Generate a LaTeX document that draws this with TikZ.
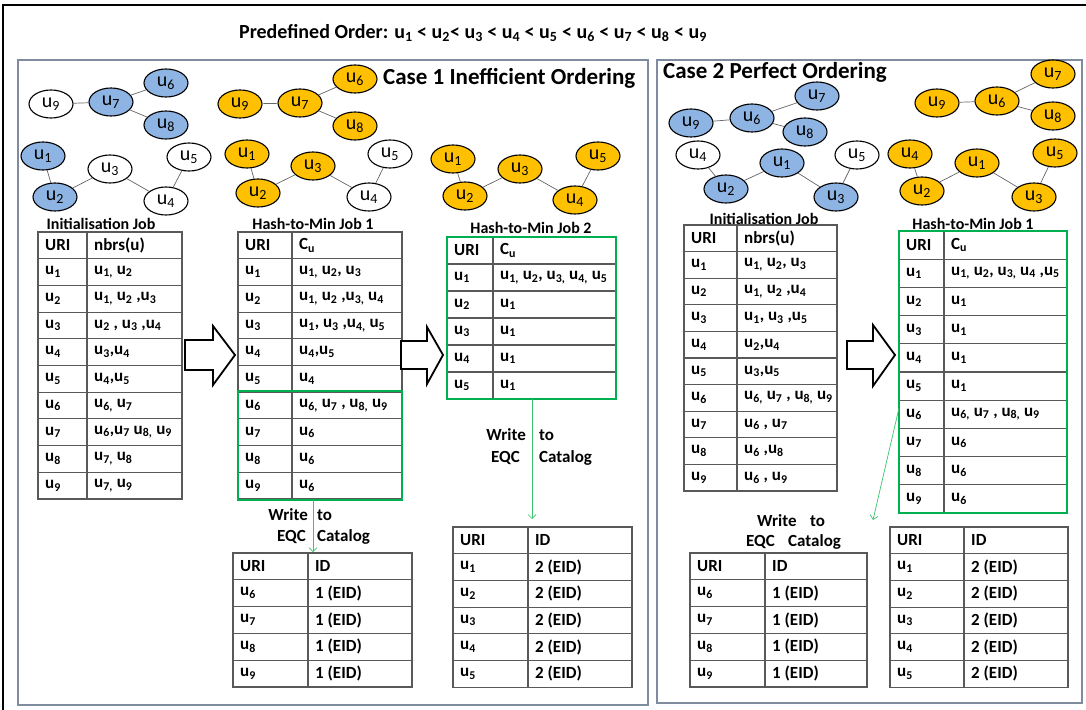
\documentclass[tikz,border=0pt]{standalone}
\usepackage{fontspec}
\setmainfont{Carlito}
\usetikzlibrary{shapes.geometric,arrows.meta}
\definecolor{nodeblue}{HTML}{8DB4E2}
\definecolor{nodeorange}{HTML}{FFC000}
\definecolor{panelgray}{RGB}{127,140,160}
\definecolor{boxgreen}{HTML}{00B050}
\definecolor{linkgreen}{HTML}{3CC36E}
\newcommand\ux[1]{u\textsubscript{#1}}
% #1 name, #2 rows, #3 left, #4 divider, #5 right, #6 top, #7 row height, #8 rows (uri/value)
\newcommand\ptable[8]{%
  \draw[tline] (#3,#6) rectangle (#5,#6+#2*#7);
  \draw[tline] (#4,#6) -- (#4,#6+#2*#7);
  \foreach \a/\b [count=\i from 0] in {#8} {
    \node[cell] (#1-\i-a) at (#3+7,#6+\i*#7+#7/2) {\a};
    \node[cell] (#1-\i-b) at (#4+7,#6+\i*#7+#7/2) {\b};
    \ifnum\i>0 \draw[tline] (#3,#6+\i*#7) -- (#5,#6+\i*#7); \fi
  }
  \coordinate (#1-nw) at (#3,#6);
  \coordinate (#1-se) at (#5,#6+#2*#7);
}
\begin{document}
\begin{tikzpicture}[x=1pt,y=-1pt,
  gn/.style={ellipse,draw=black,line width=1.1pt,minimum width=44pt,minimum height=28pt,inner sep=0pt,font=\fontsize{20}{20}\selectfont},
  bn/.style={gn,fill=nodeblue},
  on/.style={gn,fill=nodeorange},
  wn/.style={gn,fill=white},
  edge/.style={draw=black!60,line width=0.7pt},
  tline/.style={draw=black!65,line width=1.1pt},
  cell/.style={anchor=west,inner sep=0pt,font=\bfseries\fontsize{17}{18}\selectfont},
  ttl/.style={inner sep=0pt,font=\bfseries\fontsize{16}{17}\selectfont},
  wtext/.style={inner sep=0pt,font=\bfseries\fontsize{17}{18}\selectfont},
  green box/.style={draw=boxgreen,line width=2.6pt},
  link/.style={draw=linkgreen,line width=0.7pt,-{Straight Barb[length=4pt,width=8pt]}},
  blockarrow/.style={draw=black,line width=1.8pt,fill=white,line join=miter},
  panel/.style={draw=panelgray,line width=1.8pt}]
\useasboundingbox (0,0) rectangle (1086,709);

% outer frame and the two case panels
\draw[black,line width=2.5pt] (3,720) -- (3,5) -- (1100,5);
\draw[panel] (18,60) rectangle (648,705);
\draw[panel] (657,60) rectangle (1082,703);

% headings
\node[inner sep=0pt,font=\bfseries\fontsize{20}{21}\selectfont] (order) at (473,33)
  {Predefined Order: \ux{1} {<} \ux{2}{<} \ux{3} {<} \ux{4} {<} \ux{5} {<} \ux{6} {<} \ux{7} {<} \ux{8} {<} \ux{9}};
\node[inner sep=0pt,font=\bfseries\fontsize{23}{24}\selectfont,anchor=west] (case1) at (383,78) {Case 1 Inefficient Ordering};
\node[inner sep=0pt,font=\bfseries\fontsize{23}{24}\selectfont,anchor=west] (case2) at (663,72) {Case 2 Perfect Ordering};

% ---------- Case 1: initial graph ----------
\node[bn] (a6) at (166,83) {\ux{6}};
\node[wn] (a9) at (51,104) {\ux{9}};
\node[bn] (a7) at (111,102) {\ux{7}};
\node[bn] (a8) at (166,125) {\ux{8}};
\node[bn] (a1) at (43,156) {\ux{1}};
\node[wn] (a3) at (110,169) {\ux{3}};
\node[wn] (a5) at (189,157) {\ux{5}};
\node[bn] (a2) at (55,197) {\ux{2}};
\node[wn] (a4) at (166,201) {\ux{4}};
\foreach \p/\q in {a9/a7,a7/a6,a7/a8,a1/a2,a2/a3,a3/a4,a4/a5} \draw[edge] (\p) -- (\q);

% ---------- Case 1: graph after job 1 ----------
\node[on] (b6) at (355,79) {\ux{6}};
\node[on] (b9) at (240,104) {\ux{9}};
\node[on] (b7) at (300,103) {\ux{7}};
\node[on] (b8) at (355,126) {\ux{8}};
\node[on] (b1) at (247,154) {\ux{1}};
\node[on] (b3) at (313,166) {\ux{3}};
\node[wn] (b5) at (390,154) {\ux{5}};
\node[on] (b2) at (258,193) {\ux{2}};
\node[wn] (b4) at (369,197) {\ux{4}};
\foreach \p/\q in {b9/b7,b7/b6,b7/b8,b1/b2,b2/b3,b3/b4,b4/b5} \draw[edge] (\p) -- (\q);

% ---------- Case 1: graph after job 2 ----------
\node[on] (c1) at (453,159) {\ux{1}};
\node[on] (c3) at (520,169) {\ux{3}};
\node[on] (c5) at (598,156) {\ux{5}};
\node[on] (c2) at (465,196) {\ux{2}};
\node[on] (c4) at (575,200) {\ux{4}};
\foreach \p/\q in {c1/c2,c2/c3,c3/c4,c4/c5} \draw[edge] (\p) -- (\q);

% ---------- Case 2: initial graph ----------
\node[bn] (d7) at (817,96) {\ux{7}};
\node[bn] (d9) at (691,123) {\ux{9}};
\node[bn] (d6) at (752,118) {\ux{6}};
\node[bn] (d8) at (805,132) {\ux{8}};
\node[wn] (d4) at (698,155) {\ux{4}};
\node[bn] (d1) at (782,163) {\ux{1}};
\node[wn] (d5) at (857,155) {\ux{5}};
\node[bn] (d2) at (726,189) {\ux{2}};
\node[bn] (d3) at (836,197) {\ux{3}};
\foreach \p/\q in {d9/d6,d6/d7,d6/d8,d4/d2,d2/d1,d1/d3,d3/d5} \draw[edge] (\p) -- (\q);

% ---------- Case 2: graph after job 1 ----------
\node[on] (e7) at (1053,74) {\ux{7}};
\node[on] (e9) at (937,103) {\ux{9}};
\node[on] (e6) at (997,101) {\ux{6}};
\node[on] (e8) at (1053,116) {\ux{8}};
\node[on] (e4) at (910,154) {\ux{4}};
\node[on] (e1) at (977,163) {\ux{1}};
\node[on] (e5) at (1055,153) {\ux{5}};
\node[on] (e2) at (922,191) {\ux{2}};
\node[on] (e3) at (1034,197) {\ux{3}};
\foreach \p/\q in {e9/e6,e6/e7,e6/e8,e4/e2,e2/e1,e1/e3,e3/e5} \draw[edge] (\p) -- (\q);

% ---------- table titles ----------
\node[ttl] (tA) at (101,224) {Initialisation Job};
\node[ttl] (tB) at (313,224) {Hash-to-Min Job 1};
\node[ttl] (tC) at (531,228) {Hash-to-Min Job 2};
\node[ttl] (tF) at (764,219) {Initialisation Job};
\node[ttl] (tG) at (973,224) {Hash-to-Min Job 1};

% ---------- Case 1 tables ----------
\ptable{A}{10}{38}{87}{182}{232}{26.7}{URI/nbrs(u),
  \ux{1}/{\ux{1,} \ux{2}},
  \ux{2}/{\ux{1,} \ux{2} ,\ux{3}},
  \ux{3}/{\ux{2} , \ux{3} ,\ux{4}},
  \ux{4}/{\ux{3},\ux{4}},
  \ux{5}/{\ux{4},\ux{5}},
  \ux{6}/{\ux{6,} \ux{7}},
  \ux{7}/{\ux{6},\ux{7} \ux{8,} \ux{9}},
  \ux{8}/{\ux{7,} \ux{8}},
  \ux{9}/{\ux{7,} \ux{9}}}
\ptable{B}{10}{238}{292}{402}{232}{26.7}{URI/C\textsubscript{u},
  \ux{1}/{\ux{1,} \ux{2}, \ux{3}},
  \ux{2}/{\ux{1,} \ux{2} ,\ux{3,} \ux{4}},
  \ux{3}/{\ux{1}, \ux{3} ,\ux{4,} \ux{5}},
  \ux{4}/{\ux{4},\ux{5}},
  \ux{5}/{\ux{4}},
  \ux{6}/{\ux{6,} \ux{7} , \ux{8,} \ux{9}},
  \ux{7}/{\ux{6}},
  \ux{8}/{\ux{6}},
  \ux{9}/{\ux{6}}}
\ptable{C}{6}{447}{493}{616}{237}{27}{URI/C\textsubscript{u},
  \ux{1}/{\ux{1,} \ux{2}, \ux{3,} \ux{4,} \ux{5}},
  \ux{2}/{\ux{1}},
  \ux{3}/{\ux{1}},
  \ux{4}/{\ux{1}},
  \ux{5}/{\ux{1}}}
\ptable{E}{5}{233}{308}{412}{553}{26.8}{URI/ID,
  \ux{6}/1 (EID),
  \ux{7}/1 (EID),
  \ux{8}/1 (EID),
  \ux{9}/1 (EID)}
\ptable{D}{6}{453}{528}{632}{527}{26.7}{URI/ID,
  \ux{1}/2 (EID),
  \ux{2}/2 (EID),
  \ux{3}/2 (EID),
  \ux{4}/2 (EID),
  \ux{5}/2 (EID)}

% ---------- Case 2 tables ----------
\ptable{F}{10}{684}{737}{837}{225}{26.6}{URI/nbrs(u),
  \ux{1}/{\ux{1,} \ux{2}, \ux{3}},
  \ux{2}/{\ux{1,} \ux{2} ,\ux{4}},
  \ux{3}/{\ux{1}, \ux{3} ,\ux{5}},
  \ux{4}/{\ux{2},\ux{4}},
  \ux{5}/{\ux{3},\ux{5}},
  \ux{6}/{\ux{6,} \ux{7} , \ux{8,} \ux{9}},
  \ux{7}/{\ux{6} , \ux{7}},
  \ux{8}/{\ux{6} ,\ux{8}},
  \ux{9}/{\ux{6} , \ux{9}}}
\ptable{G}{10}{899}{944}{1067}{231}{28.2}{URI/C\textsubscript{u},
  \ux{1}/{\ux{1,} \ux{2}, \ux{3,} \ux{4} ,\ux{5}},
  \ux{2}/{\ux{1}},
  \ux{3}/{\ux{1}},
  \ux{4}/{\ux{1}},
  \ux{5}/{\ux{1}},
  \ux{6}/{\ux{6,} \ux{7} , \ux{8,} \ux{9}},
  \ux{7}/{\ux{6}},
  \ux{8}/{\ux{6}},
  \ux{9}/{\ux{6}}}
\ptable{H}{5}{690}{765}{867}{553}{26.8}{URI/ID,
  \ux{6}/1 (EID),
  \ux{7}/1 (EID),
  \ux{8}/1 (EID),
  \ux{9}/1 (EID)}
\ptable{I}{6}{890}{964}{1068}{527}{26.7}{URI/ID,
  \ux{1}/2 (EID),
  \ux{2}/2 (EID),
  \ux{3}/2 (EID),
  \ux{4}/2 (EID),
  \ux{5}/2 (EID)}

% ---------- finished components ----------
\draw[green box] (238,391) rectangle (402,500);
\draw[green box] (C-nw) rectangle (C-se);
\draw[green box] (G-nw) rectangle (G-se);

% ---------- block arrows between jobs ----------
\draw[blockarrow] (185,340) -- (213,340) -- (213,326) -- (235,355) -- (213,385) -- (213,370) -- (185,370) -- cycle;
\draw[blockarrow] (401,341) -- (427,341) -- (427,327) -- (443,355) -- (427,384) -- (427,369) -- (401,369) -- cycle;
\draw[blockarrow] (847,341) -- (873,341) -- (873,325) -- (895,355) -- (873,386) -- (873,369) -- (847,369) -- cycle;

% ---------- writes to the EQC catalog ----------
\coordinate (wB) at (313,500);
\coordinate (wE) at (313,552);
\draw[link] (wB) -- (wE);
\node[wtext,anchor=east] (w1a) at (308,515) {Write};
\node[wtext,anchor=west] (w1b) at (317,515) {to};
\node[wtext,anchor=east] (w1c) at (306,537) {EQC};
\node[wtext,anchor=west] (w1d) at (317,537) {Catalog};

\coordinate (wC) at (532,399);
\coordinate (wD) at (532,519);
\draw[link] (wC) -- (wD);
\node[wtext,anchor=east] (w2a) at (526,435) {Write};
\node[wtext,anchor=west] (w2b) at (539,435) {to};
\node[wtext,anchor=east] (w2c) at (520,458) {EQC};
\node[wtext,anchor=west] (w2d) at (539,458) {Catalog};

\coordinate (wG) at (899,408);
\coordinate (wI) at (873,520);
\draw[link] (wG) -- (wI);
\node[wtext,anchor=west] (w3a) at (757,521) {Write};
\node[wtext,anchor=west] (w3b) at (810,521) {to};
\node[wtext,anchor=west] (w3c) at (746,542) {EQC};
\node[wtext,anchor=west] (w3d) at (788,542) {Catalog};
\end{tikzpicture}
\end{document}
